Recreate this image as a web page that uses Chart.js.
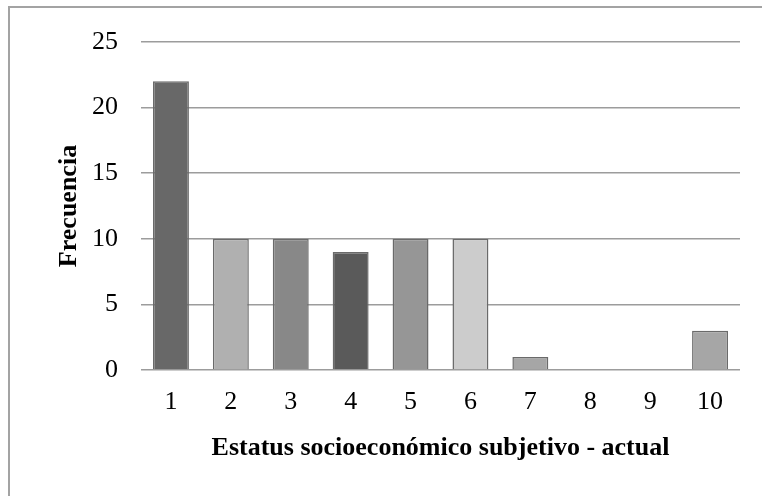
<!DOCTYPE html>
<html>
<head>
<meta charset="utf-8">
<script src="https://cdn.jsdelivr.net/npm/chart.js@4/dist/chart.umd.min.js"></script>
<style>
  html, body { margin: 0; padding: 0; background: #fff; overflow: hidden; }
  #wrap { position: relative; width: 762px; height: 496px; }
  #frame { position: absolute; left: 8px; top: 6px; width: 800px; height: 600px; border: 2px solid #a3a3a3; box-sizing: border-box; }
  canvas { position: absolute; left: 0; top: 0; }
</style>
</head>
<body>
<div id="wrap">
  <div id="frame"></div>
  <canvas id="chart" width="762" height="496"></canvas>
</div>
<script>
// Estatus socioeconómico subjetivo - actual (1..10)
const categories = ['1', '2', '3', '4', '5', '6', '7', '8', '9', '10'];
const frecuencia = [22, 10, 10, 9, 10, 10, 1, 0, 0, 3];
const barColors = ['#686868', '#b0b0b0', '#888888', '#5a5a5a', '#969696', '#cccccc', '#a6a6a6', '#a6a6a6', '#a6a6a6', '#a6a6a6'];

const serif = '"Liberation Serif", "Times New Roman", serif';

const ctx = document.getElementById('chart').getContext('2d');
new Chart(ctx, {
  type: 'bar',
  data: {
    labels: categories,
    datasets: [{
      label: 'Frecuencia',
      data: frecuencia,
      backgroundColor: barColors,
      borderColor: '#6a6a6a',
      borderWidth: 1.5,
      barPercentage: 0.6,
      categoryPercentage: 1.0,
    }],
  },
  options: {
    responsive: false,
    animation: false,
    layout: { padding: { left: 0, right: 22, top: 42, bottom: 30 } },
    plugins: {
      legend: { display: false },
      tooltip: { enabled: false },
    },
    scales: {
      x: {
        grid: { display: false },
        border: { display: false },
        ticks: { color: '#000', padding: 9, font: { family: serif, size: 26 } },
        title: {
          display: true,
          text: 'Estatus socioeconómico subjetivo - actual',
          color: '#000',
          font: { family: serif, size: 26, weight: 'bold' },
          padding: { top: 0, bottom: 2 },
        },
        afterFit: (scale) => { scale.height = 96; },
      },
      y: {
        min: 0,
        max: 25,
        ticks: { stepSize: 5, color: '#000', padding: 23, font: { family: serif, size: 26 } },
        grid: { color: '#9c9c9c', lineWidth: 1.5, drawTicks: false },
        border: { display: false },
        title: {
          display: true,
          text: 'Frecuencia',
          color: '#000',
          font: { family: serif, size: 26, weight: 'bold' },
          padding: { top: 54, bottom: 0 },
        },
        afterFit: (scale) => { scale.width = 141; },
      },
    },
  },
});
</script>
</body>
</html>
